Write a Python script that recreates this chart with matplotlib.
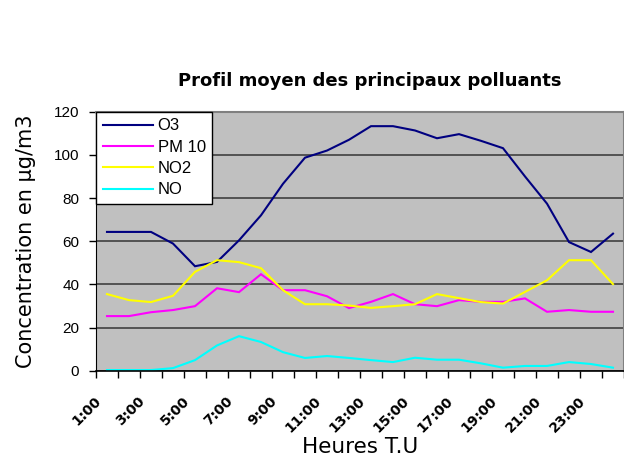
#!/usr/bin/env python3
"""
plot.py — Profil moyen des principaux polluants (hourly mean concentrations)
"""

import matplotlib
matplotlib.use("Agg")
import matplotlib.pyplot as plt
from matplotlib.transforms import ScaledTranslation

# ============================================================
# Data
# ============================================================
hours = [f"{h}:00" for h in range(1, 25)]

o3   = [64.3, 64.3, 64.3, 58.9, 48.4, 50.4, 60.4, 72.0, 86.6, 98.7, 102.0, 107.0,
        113.3, 113.3, 111.3, 107.7, 109.6, 106.5, 103.1, 90.0, 77.4, 59.6, 55.0, 63.5]
pm10 = [25.3, 25.3, 27.1, 28.1, 29.9, 38.2, 36.4, 44.7, 37.3, 37.3, 34.5, 29.0,
        31.9, 35.5, 30.8, 29.9, 32.7, 31.9, 31.9, 33.5, 27.3, 28.1, 27.3, 27.3]
no2  = [35.5, 32.7, 31.8, 34.7, 45.8, 51.2, 50.3, 47.5, 37.3, 30.8, 30.8, 30.2,
        29.1, 29.9, 30.8, 35.5, 33.6, 31.8, 31.1, 36.5, 41.9, 51.2, 51.2, 40.1]
no   = [0.3, 0.3, 0.3, 1.2, 4.9, 11.7, 16.0, 13.3, 8.6, 5.9, 6.8, 5.9,
        4.9, 4.0, 6.0, 5.1, 5.1, 3.4, 1.4, 2.2, 2.2, 4.0, 3.1, 1.4]

series_names  = ["O3", "PM 10", "NO2", "NO"]
series_colors = ["#000080", "#FF00FF", "#FFFF00", "#00FFFF"]

y_ticks = [0, 20, 40, 60, 80, 100, 120]


# ============================================================
# Plot
# ============================================================
W, H = 624, 457
fig = plt.figure(figsize=(W / 100, H / 100), dpi=100)
ax = fig.add_axes([96 / W, 1 - 370.7 / H, 1 - 96 / W, (370.7 - 111.7) / H])

ax.set_facecolor("#C0C0C0")
x = list(range(len(hours)))
for vals, name, col in zip([o3, pm10, no2, no], series_names, series_colors):
    ax.plot(x, vals, color=col, linewidth=1.5, label=name, solid_joinstyle="miter")

ax.set_xlim(-0.5, len(hours) - 0.5)
ax.set_ylim(0, 120)

# horizontal grid
ax.set_yticks(y_ticks)
ax.yaxis.grid(True, color="#404040", linewidth=1.2)
ax.set_axisbelow(True)
ax.tick_params(axis="y", direction="out", length=5, width=1, labelsize=11, pad=7)
for lbl in ax.get_yticklabels():
    lbl.set_family("Liberation Sans")

# category boundary ticks (major) + labels every other hour (minor)
ax.set_xticks([i - 0.5 for i in range(len(hours) + 1)])
ax.set_xticklabels([])
ax.tick_params(axis="x", which="major", direction="out", length=5, width=1)
ax.set_xticks(x[::2], minor=True)
ax.set_xticklabels(hours[::2], minor=True, rotation=45, ha="right",
                   rotation_mode="anchor", fontsize=10, fontweight="bold")
ax.tick_params(axis="x", which="minor", length=0, pad=17)
shift = ScaledTranslation(-13 / 100, 0, fig.dpi_scale_trans)
for lbl in ax.get_xticklabels(minor=True):
    lbl.set_transform(lbl.get_transform() + shift)

for side in ["top", "right"]:
    ax.spines[side].set_color("#808080")
    ax.spines[side].set_linewidth(1.5)
ax.spines["left"].set_color("black")
ax.spines["bottom"].set_color("black")
ax.spines["bottom"].set_linewidth(1.2)

fig.text(370 / W, 1 - 81 / H, "Profil moyen des principaux polluants",
         fontsize=13, fontweight="bold", ha="center", va="center")
ax.set_xlabel("Heures T.U", fontsize=15.5)
ax.xaxis.set_label_coords((360 - 96) / 528, (370.7 - 437) / 259)
ax.set_ylabel("Concentration en µg/m3", fontsize=15)
ax.yaxis.set_label_coords((36 - 96) / 528, 0.5)

leg = ax.legend(loc="upper left", bbox_to_anchor=(0.0, 1.0), frameon=True,
                fancybox=False, edgecolor="black", framealpha=1,
                prop={"family": "Liberation Sans", "size": 12},
                handlelength=3.0, handletextpad=0.3, labelspacing=0.38,
                borderpad=0.4, borderaxespad=0.0)
leg.get_frame().set_linewidth(1.0)

fig.savefig("out.png", dpi=100)
print("  Saved: out.png")
